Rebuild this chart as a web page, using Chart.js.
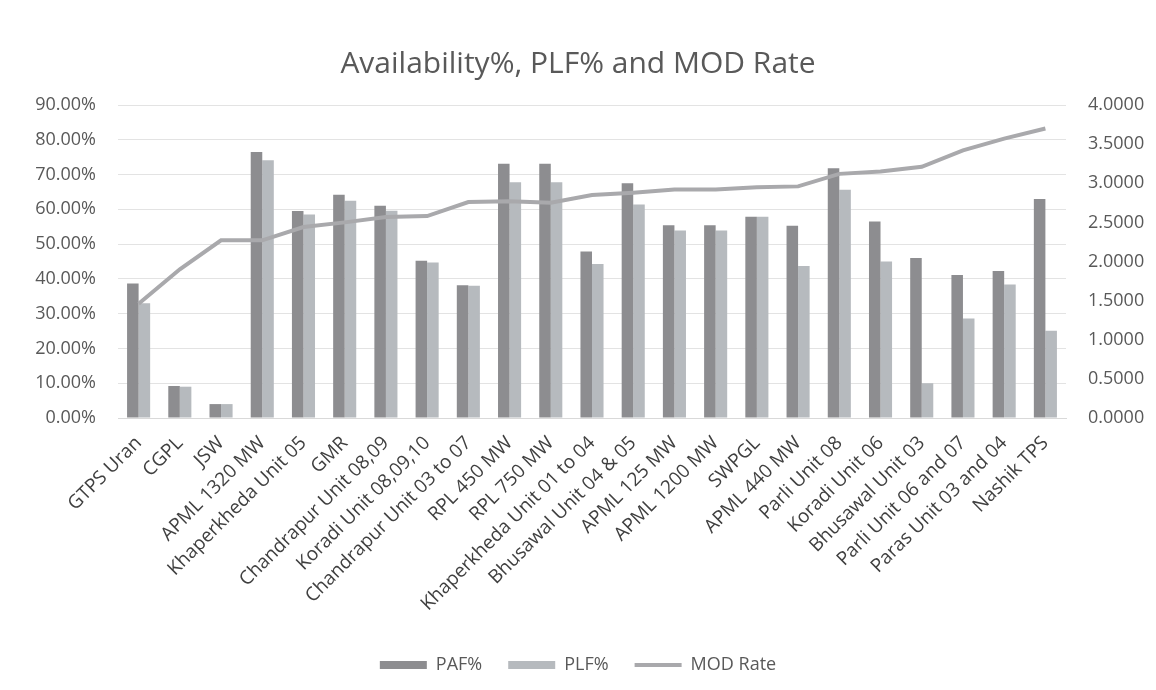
<!DOCTYPE html>
<html>
<head>
<meta charset="utf-8">
<script src="https://cdn.jsdelivr.net/npm/chart.js@4"></script>
<style>
  html, body { margin: 0; padding: 0; background: #ffffff; }
  #wrap { width: 1156px; height: 690px; position: relative; }
</style>
</head>
<body>
<div id="wrap"><canvas id="c"></canvas></div>
<script>
const categories = ['GTPS Uran','CGPL','JSW','APML 1320 MW','Khaperkheda Unit 05','GMR','Chandrapur Unit 08,09','Koradi Unit 08,09,10','Chandrapur Unit 03 to 07','RPL 450 MW','RPL 750 MW','Khaperkheda Unit 01 to 04','Bhusawal Unit 04 & 05','APML 125 MW','APML 1200 MW','SWPGL','APML 440 MW','Parli Unit 08','Koradi Unit 06','Bhusawal Unit 03','Parli Unit 06 and 07','Paras Unit 03 and 04','Nashik TPS'];
const pafValues = [38.7, 9.2, 4.0, 76.5, 59.5, 64.2, 61.0, 45.2, 38.2, 73.1, 73.1, 47.9, 67.5, 55.4, 55.4, 57.9, 55.3, 71.8, 56.5, 46.0, 41.1, 42.3, 63.0];
const plfValues = [33.0, 9.0, 4.0, 74.1, 58.5, 62.5, 59.6, 44.7, 38.0, 67.8, 67.8, 44.3, 61.4, 53.9, 53.9, 57.9, 43.7, 65.6, 45.0, 10.0, 28.6, 38.4, 25.1];
const modRate = [1.46, 1.90, 2.27, 2.27, 2.44, 2.50, 2.57, 2.58, 2.76, 2.77, 2.75, 2.85, 2.88, 2.92, 2.92, 2.95, 2.96, 3.12, 3.15, 3.21, 3.42, 3.57, 3.70];
const leftTicks = [0, 10, 20, 30, 40, 50, 60, 70, 80, 90];
const rightTicks = [0, 0.5, 1, 1.5, 2, 2.5, 3, 3.5, 4];

const FONT = "'Open Sans', 'Noto Sans', sans-serif";
const TXT = '#595959';
const LINE_COLOR = '#a9a9ac';

new Chart(document.getElementById('c'), {
  data: {
    labels: categories,
    datasets: [
      { type: 'bar', label: 'PAF%', data: pafValues, backgroundColor: '#8d8d90', yAxisID: 'y', order: 1,
        categoryPercentage: 0.56, barPercentage: 1.0 },
      { type: 'bar', label: 'PLF%', data: plfValues, backgroundColor: '#b6babe', yAxisID: 'y', order: 1,
        categoryPercentage: 0.56, barPercentage: 1.0 },
      { type: 'line', label: 'MOD Rate', data: modRate, borderColor: LINE_COLOR, backgroundColor: LINE_COLOR,
        borderWidth: 4, pointRadius: 0, tension: 0, yAxisID: 'y1', order: 0 }
    ]
  },
  options: {
    responsive: true,
    maintainAspectRatio: false,
    animation: false,
    layout: { padding: { left: 0, right: 0, top: 0, bottom: 6 } },
    plugins: {
      title: {
        display: true,
        text: 'Availability%, PLF% and MOD Rate',
        color: TXT,
        font: { family: FONT, size: 30, weight: 'normal' },
        padding: { top: 46, bottom: 23 }
      },
      legend: {
        position: 'bottom',
        labels: {
          color: TXT,
          font: { family: FONT, size: 18 },
          usePointStyle: true,
          pointStyleWidth: 47,
          boxHeight: 8,
          padding: 26,
          generateLabels: function(chart) {
            const items = Chart.defaults.plugins.legend.labels.generateLabels(chart);
            items.sort(function(a, b) { return a.datasetIndex - b.datasetIndex; });
            items.forEach(function(it) {
              if (it.datasetIndex === 2) { it.pointStyle = 'line'; it.lineWidth = 4; it.strokeStyle = LINE_COLOR; }
              else { it.pointStyle = 'rect'; it.lineWidth = 0; }
            });
            return items;
          }
        }
      },
      tooltip: { enabled: false }
    },
    scales: {
      x: {
        grid: { display: false },
        border: { display: true, color: '#d9d9d9' },
        ticks: { color: '#404040', font: { family: FONT, size: 19 }, autoSkip: false, maxRotation: 45, minRotation: 45, padding: 6 },
        afterFit: function(s) { s.height = 212; }
      },
      y: {
        position: 'left',
        min: 0, max: 90,
        afterBuildTicks: function(s) { s.ticks = leftTicks.map(function(v) { return { value: v }; }); },
        grid: { color: '#e3e3e3', drawTicks: false },
        border: { display: false },
        ticks: { color: TXT, font: { family: FONT, size: 18 }, padding: 22,
          callback: function(v) { return Number(v).toFixed(2) + '%'; } },
        afterFit: function(s) { s.width = 118; }
      },
      y1: {
        position: 'right',
        min: 0, max: 4,
        afterBuildTicks: function(s) { s.ticks = rightTicks.map(function(v) { return { value: v }; }); },
        grid: { drawOnChartArea: false, drawTicks: false },
        border: { display: false },
        ticks: { color: TXT, font: { family: FONT, size: 18 }, padding: 22,
          callback: function(v) { return Number(v).toFixed(4); } },
        afterFit: function(s) { s.width = 90; }
      }
    }
  }
});
</script>
</body>
</html>
